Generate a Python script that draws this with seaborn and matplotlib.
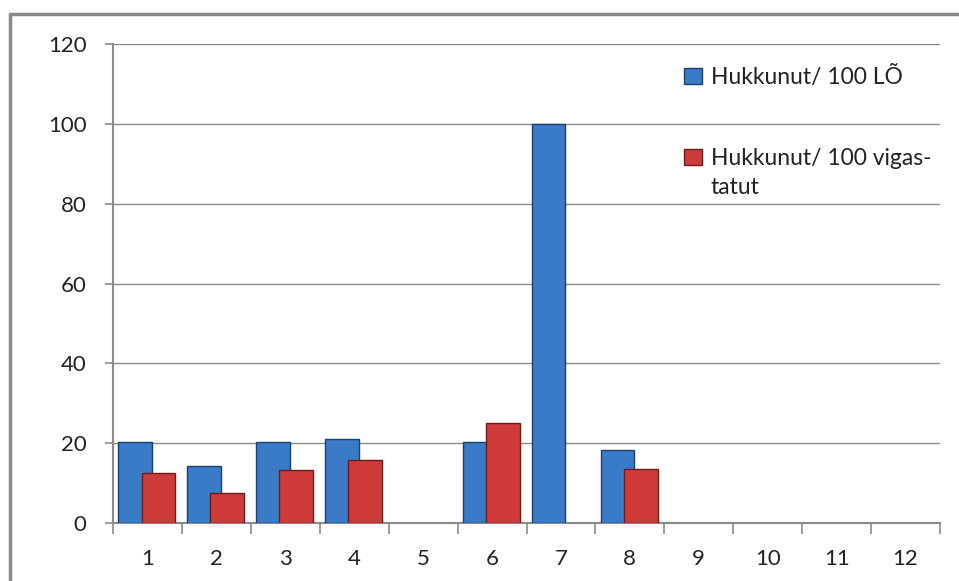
import matplotlib
matplotlib.use("Agg")
import matplotlib.pyplot as plt
import seaborn as sns
import pandas as pd
from matplotlib.lines import Line2D
from matplotlib.patches import Rectangle

categories = [str(i) for i in range(1, 13)]
hukkunut_lo = [20.3, 14.3, 20.3, 21.0, 0, 20.3, 100, 18.2, 0, 0, 0, 0]
hukkunut_vig = [12.6, 7.6, 13.3, 15.8, 0, 25.1, 0, 13.5, 0, 0, 0, 0]
series_names = ["Hukkunut/ 100 LÕ", "Hukkunut/ 100 vigas-"]
label_cont = "tatut"
colors = ["#3a7bc8", "#cf3a3a"]
edge_colors = ["#1d3f6e", "#6e1a1a"]

df = pd.DataFrame({
    "kategooria": categories * 2,
    "vaartus": hukkunut_lo + hukkunut_vig,
    "seeria": [series_names[0]] * 12 + [series_names[1]] * 12,
})

sns.set_style("white")
plt.rcParams["font.family"] = ["Lato", "DejaVu Sans"]

fig = plt.figure(figsize=(9.59, 5.81), dpi=100)
ax = fig.add_axes([113 / 959, 58 / 581, 827 / 959, 479 / 581])

sns.barplot(
    data=df, x="kategooria", y="vaartus", hue="seeria",
    order=categories, hue_order=series_names, palette=colors,
    saturation=1, width=0.8, dodge=True, ax=ax, legend=False,
)

# overlapping bars like the original Excel chart
offsets = [-0.181, 0.159]
bar_w = 0.49
for k, cont in enumerate(ax.containers):
    for i, patch in enumerate(cont.patches):
        patch.set_width(bar_w)
        patch.set_x(i + offsets[k] - bar_w / 2)
        patch.set_edgecolor(edge_colors[k])
        patch.set_linewidth(1.0 if patch.get_height() > 0 else 0)
        patch.set_zorder(3 + k)

ax.set_ylim(0, 120)
ax.set_xlim(-0.5, 11.5)
ax.set_yticks(range(0, 121, 20))
ax.yaxis.grid(True, color="#8a8a8a", linewidth=1.0, zorder=0)
ax.set_axisbelow(True)
ax.set_xlabel("")
ax.set_ylabel("")

for side in ["top", "right"]:
    ax.spines[side].set_visible(False)
for side in ["left", "bottom"]:
    ax.spines[side].set_color("#8a8a8a")
    ax.spines[side].set_linewidth(1.5)

ax.tick_params(axis="y", length=6, width=1.2, color="#8a8a8a", pad=13,
               labelsize=16, labelcolor="#222222", left=True)
ax.tick_params(axis="x", which="major", length=0, pad=19,
               labelsize=16, labelcolor="#222222")
ax.set_xticks([i - 0.5 for i in range(13)], minor=True)
ax.tick_params(axis="x", which="minor", length=8, width=1.2,
               color="#8a8a8a", bottom=True)

handles = [Rectangle((0, 0), 1, 1, facecolor=colors[k], edgecolor=edge_colors[k])
           for k in range(2)]
leg = ax.legend(handles, series_names, loc="upper left",
                bbox_to_anchor=(0.677, 0.978), frameon=False, fontsize=16.5,
                handlelength=0.75, handleheight=0.75, handletextpad=0.4,
                labelspacing=2.62, borderpad=0, labelcolor="#222222")

# second line of the wrapped legend label
fig.canvas.draw()
bb = leg.get_texts()[1].get_window_extent()
x0, y0 = fig.transFigure.inverted().transform((bb.x0, bb.y0))
fig.text(x0, y0 - 29 / 581, label_cont, fontsize=16.5, color="#222222",
         ha="left", va="bottom")

# outer chart border
fig.add_artist(Line2D([10 / 959, 10 / 959], [0, 1 - 14 / 581],
                      color="#8a8a8a", linewidth=2.5, transform=fig.transFigure))
fig.add_artist(Line2D([10 / 959, 1], [1 - 14 / 581, 1 - 14 / 581],
                      color="#8a8a8a", linewidth=2.5, transform=fig.transFigure))

fig.savefig("out.png", dpi=100)
